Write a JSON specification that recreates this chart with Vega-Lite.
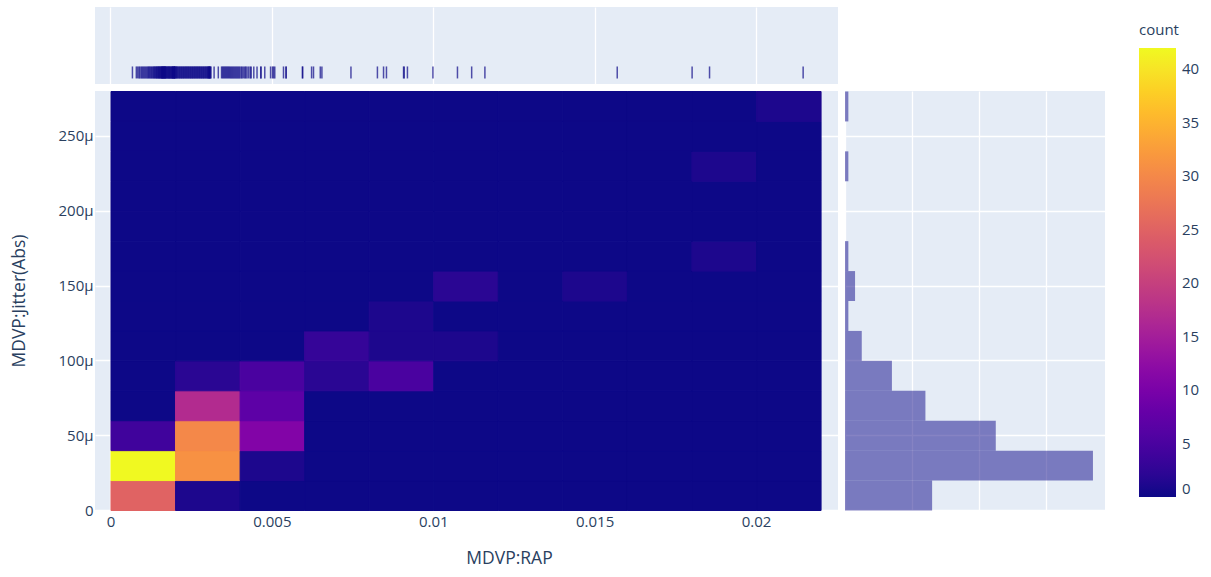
{
  "$schema": "https://vega.github.io/schema/vega-lite/v6.json",
  "background": "white",
  "padding": {"left": 10, "top": 7, "right": 0, "bottom": 0},
  "config": {
    "font": "Open Sans",
    "view": {"fill": "#E5ECF6", "stroke": null},
    "axis": {
      "domain": false,
      "ticks": false,
      "grid": true,
      "gridColor": "#ffffff",
      "gridWidth": 1.3,
      "zindex": 0,
      "labelColor": "#2a3f5f",
      "labelFontSize": 15,
      "labelPadding": 3,
      "titleColor": "#2a3f5f",
      "titleFontSize": 17.5,
      "titleFontWeight": "normal"
    }
  },
  "datasets": {
    "cells": [
      {"rap": 0, "jit": 0, "count": 25}, {"rap": 0.002, "jit": 0, "count": 1}, {"rap": 0.004, "jit": 0, "count": 0}, {"rap": 0.006, "jit": 0, "count": 0}, {"rap": 0.008, "jit": 0, "count": 0}, {"rap": 0.01, "jit": 0, "count": 0}, {"rap": 0.012, "jit": 0, "count": 0}, {"rap": 0.014, "jit": 0, "count": 0}, {"rap": 0.016, "jit": 0, "count": 0}, {"rap": 0.018, "jit": 0, "count": 0}, {"rap": 0.02, "jit": 0, "count": 0},
      {"rap": 0, "jit": 0.00002, "count": 42}, {"rap": 0.002, "jit": 0.00002, "count": 31}, {"rap": 0.004, "jit": 0.00002, "count": 1}, {"rap": 0.006, "jit": 0.00002, "count": 0}, {"rap": 0.008, "jit": 0.00002, "count": 0}, {"rap": 0.01, "jit": 0.00002, "count": 0}, {"rap": 0.012, "jit": 0.00002, "count": 0}, {"rap": 0.014, "jit": 0.00002, "count": 0}, {"rap": 0.016, "jit": 0.00002, "count": 0}, {"rap": 0.018, "jit": 0.00002, "count": 0}, {"rap": 0.02, "jit": 0.00002, "count": 0},
      {"rap": 0, "jit": 0.00004, "count": 4}, {"rap": 0.002, "jit": 0.00004, "count": 30}, {"rap": 0.004, "jit": 0.00004, "count": 11}, {"rap": 0.006, "jit": 0.00004, "count": 0}, {"rap": 0.008, "jit": 0.00004, "count": 0}, {"rap": 0.01, "jit": 0.00004, "count": 0}, {"rap": 0.012, "jit": 0.00004, "count": 0}, {"rap": 0.014, "jit": 0.00004, "count": 0}, {"rap": 0.016, "jit": 0.00004, "count": 0}, {"rap": 0.018, "jit": 0.00004, "count": 0}, {"rap": 0.02, "jit": 0.00004, "count": 0},
      {"rap": 0, "jit": 0.00006, "count": 0}, {"rap": 0.002, "jit": 0.00006, "count": 17}, {"rap": 0.004, "jit": 0.00006, "count": 7}, {"rap": 0.006, "jit": 0.00006, "count": 0}, {"rap": 0.008, "jit": 0.00006, "count": 0}, {"rap": 0.01, "jit": 0.00006, "count": 0}, {"rap": 0.012, "jit": 0.00006, "count": 0}, {"rap": 0.014, "jit": 0.00006, "count": 0}, {"rap": 0.016, "jit": 0.00006, "count": 0}, {"rap": 0.018, "jit": 0.00006, "count": 0}, {"rap": 0.02, "jit": 0.00006, "count": 0},
      {"rap": 0, "jit": 0.00008, "count": 0}, {"rap": 0.002, "jit": 0.00008, "count": 2}, {"rap": 0.004, "jit": 0.00008, "count": 5}, {"rap": 0.006, "jit": 0.00008, "count": 2}, {"rap": 0.008, "jit": 0.00008, "count": 5}, {"rap": 0.01, "jit": 0.00008, "count": 0}, {"rap": 0.012, "jit": 0.00008, "count": 0}, {"rap": 0.014, "jit": 0.00008, "count": 0}, {"rap": 0.016, "jit": 0.00008, "count": 0}, {"rap": 0.018, "jit": 0.00008, "count": 0}, {"rap": 0.02, "jit": 0.00008, "count": 0},
      {"rap": 0, "jit": 0.0001, "count": 0}, {"rap": 0.002, "jit": 0.0001, "count": 0}, {"rap": 0.004, "jit": 0.0001, "count": 0}, {"rap": 0.006, "jit": 0.0001, "count": 3}, {"rap": 0.008, "jit": 0.0001, "count": 1}, {"rap": 0.01, "jit": 0.0001, "count": 1}, {"rap": 0.012, "jit": 0.0001, "count": 0}, {"rap": 0.014, "jit": 0.0001, "count": 0}, {"rap": 0.016, "jit": 0.0001, "count": 0}, {"rap": 0.018, "jit": 0.0001, "count": 0}, {"rap": 0.02, "jit": 0.0001, "count": 0},
      {"rap": 0, "jit": 0.00012, "count": 0}, {"rap": 0.002, "jit": 0.00012, "count": 0}, {"rap": 0.004, "jit": 0.00012, "count": 0}, {"rap": 0.006, "jit": 0.00012, "count": 0}, {"rap": 0.008, "jit": 0.00012, "count": 1}, {"rap": 0.01, "jit": 0.00012, "count": 0}, {"rap": 0.012, "jit": 0.00012, "count": 0}, {"rap": 0.014, "jit": 0.00012, "count": 0}, {"rap": 0.016, "jit": 0.00012, "count": 0}, {"rap": 0.018, "jit": 0.00012, "count": 0}, {"rap": 0.02, "jit": 0.00012, "count": 0},
      {"rap": 0, "jit": 0.00014, "count": 0}, {"rap": 0.002, "jit": 0.00014, "count": 0}, {"rap": 0.004, "jit": 0.00014, "count": 0}, {"rap": 0.006, "jit": 0.00014, "count": 0}, {"rap": 0.008, "jit": 0.00014, "count": 0}, {"rap": 0.01, "jit": 0.00014, "count": 2}, {"rap": 0.012, "jit": 0.00014, "count": 0}, {"rap": 0.014, "jit": 0.00014, "count": 1}, {"rap": 0.016, "jit": 0.00014, "count": 0}, {"rap": 0.018, "jit": 0.00014, "count": 0}, {"rap": 0.02, "jit": 0.00014, "count": 0},
      {"rap": 0, "jit": 0.00016, "count": 0}, {"rap": 0.002, "jit": 0.00016, "count": 0}, {"rap": 0.004, "jit": 0.00016, "count": 0}, {"rap": 0.006, "jit": 0.00016, "count": 0}, {"rap": 0.008, "jit": 0.00016, "count": 0}, {"rap": 0.01, "jit": 0.00016, "count": 0}, {"rap": 0.012, "jit": 0.00016, "count": 0}, {"rap": 0.014, "jit": 0.00016, "count": 0}, {"rap": 0.016, "jit": 0.00016, "count": 0}, {"rap": 0.018, "jit": 0.00016, "count": 1}, {"rap": 0.02, "jit": 0.00016, "count": 0},
      {"rap": 0, "jit": 0.00018, "count": 0}, {"rap": 0.002, "jit": 0.00018, "count": 0}, {"rap": 0.004, "jit": 0.00018, "count": 0}, {"rap": 0.006, "jit": 0.00018, "count": 0}, {"rap": 0.008, "jit": 0.00018, "count": 0}, {"rap": 0.01, "jit": 0.00018, "count": 0}, {"rap": 0.012, "jit": 0.00018, "count": 0}, {"rap": 0.014, "jit": 0.00018, "count": 0}, {"rap": 0.016, "jit": 0.00018, "count": 0}, {"rap": 0.018, "jit": 0.00018, "count": 0}, {"rap": 0.02, "jit": 0.00018, "count": 0},
      {"rap": 0, "jit": 0.0002, "count": 0}, {"rap": 0.002, "jit": 0.0002, "count": 0}, {"rap": 0.004, "jit": 0.0002, "count": 0}, {"rap": 0.006, "jit": 0.0002, "count": 0}, {"rap": 0.008, "jit": 0.0002, "count": 0}, {"rap": 0.01, "jit": 0.0002, "count": 0}, {"rap": 0.012, "jit": 0.0002, "count": 0}, {"rap": 0.014, "jit": 0.0002, "count": 0}, {"rap": 0.016, "jit": 0.0002, "count": 0}, {"rap": 0.018, "jit": 0.0002, "count": 0}, {"rap": 0.02, "jit": 0.0002, "count": 0},
      {"rap": 0, "jit": 0.00022, "count": 0}, {"rap": 0.002, "jit": 0.00022, "count": 0}, {"rap": 0.004, "jit": 0.00022, "count": 0}, {"rap": 0.006, "jit": 0.00022, "count": 0}, {"rap": 0.008, "jit": 0.00022, "count": 0}, {"rap": 0.01, "jit": 0.00022, "count": 0}, {"rap": 0.012, "jit": 0.00022, "count": 0}, {"rap": 0.014, "jit": 0.00022, "count": 0}, {"rap": 0.016, "jit": 0.00022, "count": 0}, {"rap": 0.018, "jit": 0.00022, "count": 1}, {"rap": 0.02, "jit": 0.00022, "count": 0},
      {"rap": 0, "jit": 0.00024, "count": 0}, {"rap": 0.002, "jit": 0.00024, "count": 0}, {"rap": 0.004, "jit": 0.00024, "count": 0}, {"rap": 0.006, "jit": 0.00024, "count": 0}, {"rap": 0.008, "jit": 0.00024, "count": 0}, {"rap": 0.01, "jit": 0.00024, "count": 0}, {"rap": 0.012, "jit": 0.00024, "count": 0}, {"rap": 0.014, "jit": 0.00024, "count": 0}, {"rap": 0.016, "jit": 0.00024, "count": 0}, {"rap": 0.018, "jit": 0.00024, "count": 0}, {"rap": 0.02, "jit": 0.00024, "count": 0},
      {"rap": 0, "jit": 0.00026, "count": 0}, {"rap": 0.002, "jit": 0.00026, "count": 0}, {"rap": 0.004, "jit": 0.00026, "count": 0}, {"rap": 0.006, "jit": 0.00026, "count": 0}, {"rap": 0.008, "jit": 0.00026, "count": 0}, {"rap": 0.01, "jit": 0.00026, "count": 0}, {"rap": 0.012, "jit": 0.00026, "count": 0}, {"rap": 0.014, "jit": 0.00026, "count": 0}, {"rap": 0.016, "jit": 0.00026, "count": 0}, {"rap": 0.018, "jit": 0.00026, "count": 0}, {"rap": 0.02, "jit": 0.00026, "count": 1}
    ],
    "rapValues": [
      {"rap": 0.00068}, {"rap": 0.0008}, {"rap": 0.00084}, {"rap": 0.00088}, {"rap": 0.00091}, {"rap": 0.00095}, {"rap": 0.00098}, {"rap": 0.00101}, {"rap": 0.00104}, {"rap": 0.00107},
      {"rap": 0.0011}, {"rap": 0.00113}, {"rap": 0.00116}, {"rap": 0.00118}, {"rap": 0.00121}, {"rap": 0.00123}, {"rap": 0.00126}, {"rap": 0.00128}, {"rap": 0.00131}, {"rap": 0.00133},
      {"rap": 0.00135}, {"rap": 0.00137}, {"rap": 0.00139}, {"rap": 0.00141}, {"rap": 0.00143}, {"rap": 0.00144}, {"rap": 0.00146}, {"rap": 0.00148}, {"rap": 0.00149}, {"rap": 0.00151},
      {"rap": 0.00152}, {"rap": 0.00154}, {"rap": 0.00155}, {"rap": 0.00157}, {"rap": 0.00158}, {"rap": 0.00159}, {"rap": 0.0016}, {"rap": 0.00161}, {"rap": 0.00162}, {"rap": 0.00163},
      {"rap": 0.00164}, {"rap": 0.00165}, {"rap": 0.00166}, {"rap": 0.00167}, {"rap": 0.00168}, {"rap": 0.00169}, {"rap": 0.0017}, {"rap": 0.00171}, {"rap": 0.00172}, {"rap": 0.00174},
      {"rap": 0.00175}, {"rap": 0.00177}, {"rap": 0.00178}, {"rap": 0.0018}, {"rap": 0.00181}, {"rap": 0.00182}, {"rap": 0.00184}, {"rap": 0.00185}, {"rap": 0.00187}, {"rap": 0.00188},
      {"rap": 0.0019}, {"rap": 0.00191}, {"rap": 0.00192}, {"rap": 0.00193}, {"rap": 0.00194}, {"rap": 0.00195}, {"rap": 0.00196}, {"rap": 0.00197}, {"rap": 0.00198}, {"rap": 0.00199},
      {"rap": 0.00199},
      {"rap": 0.002}, {"rap": 0.00202}, {"rap": 0.00204}, {"rap": 0.00205}, {"rap": 0.00207}, {"rap": 0.00209}, {"rap": 0.00211}, {"rap": 0.00213}, {"rap": 0.00215}, {"rap": 0.00217},
      {"rap": 0.00219}, {"rap": 0.00221}, {"rap": 0.00223}, {"rap": 0.00225}, {"rap": 0.00227}, {"rap": 0.00229}, {"rap": 0.00231}, {"rap": 0.00233}, {"rap": 0.00235}, {"rap": 0.00237},
      {"rap": 0.00239}, {"rap": 0.00241}, {"rap": 0.00243}, {"rap": 0.00245}, {"rap": 0.00247}, {"rap": 0.00249}, {"rap": 0.00251}, {"rap": 0.00253}, {"rap": 0.00255}, {"rap": 0.00257},
      {"rap": 0.00259}, {"rap": 0.00261}, {"rap": 0.00263}, {"rap": 0.00265}, {"rap": 0.00267}, {"rap": 0.00269}, {"rap": 0.00271}, {"rap": 0.00273}, {"rap": 0.00275}, {"rap": 0.00277},
      {"rap": 0.00279}, {"rap": 0.00281}, {"rap": 0.00283}, {"rap": 0.00285}, {"rap": 0.00287}, {"rap": 0.00289}, {"rap": 0.00291}, {"rap": 0.00293}, {"rap": 0.00295}, {"rap": 0.00297},
      {"rap": 0.00299}, {"rap": 0.00301}, {"rap": 0.00302}, {"rap": 0.00304}, {"rap": 0.00305}, {"rap": 0.00306}, {"rap": 0.00307}, {"rap": 0.00308}, {"rap": 0.0031}, {"rap": 0.00311},
      {"rap": 0.00321}, {"rap": 0.00334},
      {"rap": 0.00344}, {"rap": 0.00347}, {"rap": 0.0035}, {"rap": 0.00353}, {"rap": 0.00356}, {"rap": 0.00359}, {"rap": 0.00362}, {"rap": 0.00365}, {"rap": 0.00368}, {"rap": 0.00371},
      {"rap": 0.00374}, {"rap": 0.00377}, {"rap": 0.0038}, {"rap": 0.00383}, {"rap": 0.00386}, {"rap": 0.00389}, {"rap": 0.00392}, {"rap": 0.00395}, {"rap": 0.00398},
      {"rap": 0.00401}, {"rap": 0.00405}, {"rap": 0.00408}, {"rap": 0.00412}, {"rap": 0.00416}, {"rap": 0.00419}, {"rap": 0.00423}, {"rap": 0.00428}, {"rap": 0.00433}, {"rap": 0.00436},
      {"rap": 0.00444}, {"rap": 0.00454}, {"rap": 0.00466}, {"rap": 0.00466}, {"rap": 0.00478}, {"rap": 0.00496}, {"rap": 0.00502}, {"rap": 0.00505}, {"rap": 0.00509}, {"rap": 0.00536},
      {"rap": 0.00544}, {"rap": 0.00544}, {"rap": 0.00595}, {"rap": 0.00595},
      {"rap": 0.00623}, {"rap": 0.00629}, {"rap": 0.0065}, {"rap": 0.00655}, {"rap": 0.00745},
      {"rap": 0.00827}, {"rap": 0.00846}, {"rap": 0.00855}, {"rap": 0.00908}, {"rap": 0.0091}, {"rap": 0.0092}, {"rap": 0.00999},
      {"rap": 0.01075}, {"rap": 0.01119}, {"rap": 0.0116},
      {"rap": 0.0157},
      {"rap": 0.01802}, {"rap": 0.01856},
      {"rap": 0.02146}
    ]
  },
  "columns": 2,
  "align": "each",
  "spacing": 7,
  "resolve": {"scale": {"color": "shared"}, "legend": {"color": "shared"}},
  "concat": [
    {
      "width": 743,
      "height": 77,
      "data": {"name": "rapValues"},
      "mark": {"type": "tick", "orient": "vertical", "color": "#0d0887", "size": 12, "thickness": 1.5},
      "encoding": {
        "x": {
          "field": "rap",
          "type": "quantitative",
          "scale": {"domain": [-0.00048, 0.02254], "nice": false, "zero": false},
          "axis": {"values": [0, 0.005, 0.01, 0.015, 0.02], "labels": false, "title": null}
        },
        "y": {"datum": 0, "type": "quantitative", "scale": {"domain": [-0.15, 0.85]}, "axis": null}
      }
    },
    {
      "width": 260,
      "height": 77,
      "view": {"fill": null, "stroke": null},
      "data": {"values": []},
      "mark": {"type": "point"},
      "encoding": {}
    },
    {
      "width": 743,
      "height": 419,
      "data": {"name": "cells"},
      "mark": {"type": "rect", "strokeWidth": 1, "stroke": {"expr": "scale('color', datum.count)"}},
      "encoding": {
        "x": {
          "field": "rap",
          "type": "quantitative",
          "bin": {"binned": true, "step": 0.002},
          "scale": {"domain": [-0.00048, 0.02254], "nice": false, "zero": false},
          "axis": {"values": [0, 0.005, 0.01, 0.015, 0.02], "format": "~g", "title": "MDVP:RAP", "titleX": 414, "labelPadding": 4, "titlePadding": 20}
        },
        "y": {
          "field": "jit",
          "type": "quantitative",
          "bin": {"binned": true, "step": 0.00002},
          "scale": {"domain": [0, 0.00028], "nice": false, "zero": false},
          "axis": {"values": [0, 0.00005, 0.0001, 0.00015, 0.0002, 0.00025], "labelExpr": "datum.value == 0 ? '0' : format(datum.value, '~s')", "title": "MDVP:Jitter(Abs)", "labelPadding": 2, "titlePadding": 29}
        },
        "color": {
          "field": "count",
          "type": "quantitative",
          "scale": {"scheme": "plasma", "domain": [0, 42]},
          "legend": {
            "type": "gradient",
            "title": "count",
            "orient": "none",
            "legendX": 1044,
            "legendY": 16,
            "direction": "vertical",
            "gradientLength": 449,
            "gradientThickness": 37,
            "gradientStrokeWidth": 0,
            "values": [0, 5, 10, 15, 20, 25, 30, 35, 40],
            "labelFontSize": 15,
            "labelColor": "#2a3f5f",
            "labelOffset": 6,
            "titleFontSize": 15,
            "titleColor": "#2a3f5f",
            "titleFontWeight": "normal",
            "titlePadding": 10
          }
        }
      }
    },
    {
      "width": 260,
      "height": 419,
      "data": {"name": "cells"},
      "transform": [
        {"aggregate": [{"op": "sum", "field": "count", "as": "total"}], "groupby": ["jit"]}
      ],
      "mark": {"type": "bar", "orient": "horizontal", "color": "#0d0887", "opacity": 0.5, "binSpacing": 0},
      "encoding": {
        "y": {
          "field": "jit",
          "type": "quantitative",
          "bin": {"binned": true, "step": 0.00002},
          "scale": {"domain": [0, 0.00028], "nice": false, "zero": false},
          "axis": {"values": [0, 0.00005, 0.0001, 0.00015, 0.0002, 0.00025], "labels": false, "title": null}
        },
        "x": {
          "field": "total",
          "type": "quantitative",
          "scale": {"domain": [0, 77.6], "nice": false},
          "axis": {"values": [0, 20, 40, 60], "labels": false, "title": null}
        }
      }
    }
  ]
}
